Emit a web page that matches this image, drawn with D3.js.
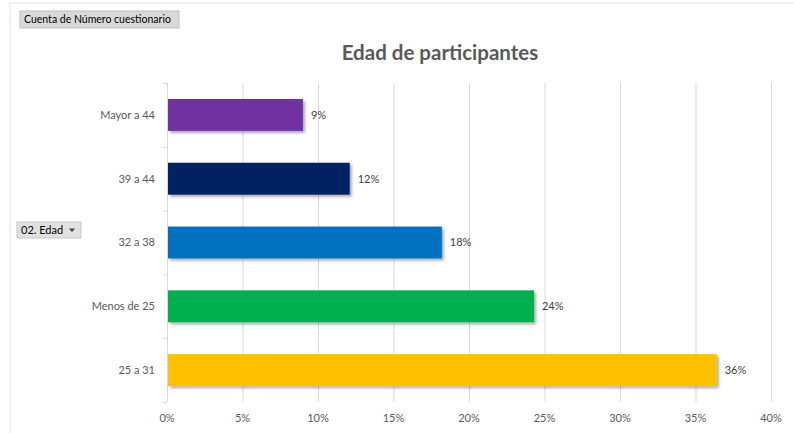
<!DOCTYPE html>
<html><head><meta charset="utf-8">
<script src="https://cdn.jsdelivr.net/npm/d3@7"></script>
<style>body{margin:0;background:#fff;}svg{display:block;font-family:Lato,"Open Sans",sans-serif;}</style>
</head><body>
<svg id="c" width="794" height="433"></svg>
<script>
const categories = ["Mayor a 44","39 a 44","32 a 38","Menos de 25","25 a 31"];
const values = [0.09, 0.121, 0.182, 0.243, 0.364];
const labels = ["9%","12%","18%","24%","36%"];
const colors = ["#7030A0","#002060","#0070C0","#00B050","#FFC000"];
const ticks = [0,0.05,0.10,0.15,0.20,0.25,0.30,0.35,0.40];

const svg = d3.select("#c");
const defs = svg.append("defs");
const f = defs.append("filter").attr("id","sh").attr("x","-5%").attr("y","-20%").attr("width","115%").attr("height","160%");
f.append("feDropShadow").attr("dx",2).attr("dy",2).attr("stdDeviation",1.5).attr("flood-color","#000").attr("flood-opacity",0.35);

// frame
svg.append("rect").attr("x",10).attr("y",3).attr("width",790).attr("height",440).attr("fill","#fff").attr("stroke","#e3e3e3").attr("stroke-width",1);

const x = d3.scaleLinear().domain([0,0.40]).range([167,771]);
const y = d3.scaleBand().domain(categories).range([83,402]).paddingInner(0.5).paddingOuter(0.25);

// gridlines
svg.append("g").selectAll("line").data(ticks).join("line")
  .attr("x1",d=>x(d)+0.5).attr("x2",d=>x(d)+0.5).attr("y1",83).attr("y2",402)
  .attr("stroke","#d9d9d9").attr("stroke-width",1);

// left axis line + ticks
svg.append("line").attr("x1",167.5).attr("x2",167.5).attr("y1",83).attr("y2",402).attr("stroke","#d9d9d9");
svg.append("g").selectAll("line").data(d3.range(6)).join("line")
  .attr("x1",163).attr("x2",167).attr("y1",i=>83+i*(402-83)/5+0.5).attr("y2",i=>83+i*(402-83)/5+0.5)
  .attr("stroke","#d9d9d9");

// bars
svg.append("g").selectAll("rect").data(categories).join("rect")
  .attr("x",x(0)+1).attr("y",c=>y(c)).attr("height",y.bandwidth())
  .attr("width",(c,i)=>x(values[i])-x(0)-1)
  .attr("fill",(c,i)=>colors[i]).attr("filter","url(#sh)");

// value labels
svg.append("g").selectAll("text").data(categories).join("text")
  .attr("x",(c,i)=>x(values[i])+8).attr("y",c=>y(c)+y.bandwidth()/2)
  .attr("dy","0.35em").attr("font-size",11).attr("fill","#404040")
  .text((c,i)=>labels[i]);

// category labels
svg.append("g").selectAll("text").data(categories).join("text")
  .attr("x",155).attr("y",c=>y(c)+y.bandwidth()/2).attr("dy","0.35em")
  .attr("text-anchor","end").attr("font-size",11).attr("fill","#595959").text(c=>c);

// x tick labels
svg.append("g").selectAll("text").data(ticks).join("text")
  .attr("x",d=>x(d)).attr("y",418).attr("dy","0.35em").attr("text-anchor","middle")
  .attr("font-size",11).attr("fill","#595959").text(d=>d3.format(".0%")(d));

// title
svg.append("text").attr("x",440).attr("y",53).attr("dy","0.35em").attr("text-anchor","middle")
  .attr("font-size",20.5).attr("font-weight","bold").attr("fill","#595959").text("Edad de participantes");

// pivot buttons
const b1 = svg.append("g");
b1.append("rect").attr("x",20).attr("y",11).attr("width",159).attr("height",17).attr("fill","#d9d9d9").attr("stroke","#bfbfbf");
b1.append("text").attr("x",24).attr("y",19.5).attr("dy","0.35em").attr("font-size",10.5).attr("fill","#000").text("Cuenta de Número cuestionario");
const b2 = svg.append("g");
b2.append("rect").attr("x",17).attr("y",222).attr("width",64).attr("height",16).attr("fill","#e0e0e0").attr("stroke","#c8c8c8");
b2.append("text").attr("x",21).attr("y",230).attr("dy","0.35em").attr("font-size",11).attr("fill","#000").text("02. Edad");
b2.append("path").attr("d","M69,228.5 L75,228.5 L72,232 Z").attr("fill","#404040");
</script>
</body></html>
